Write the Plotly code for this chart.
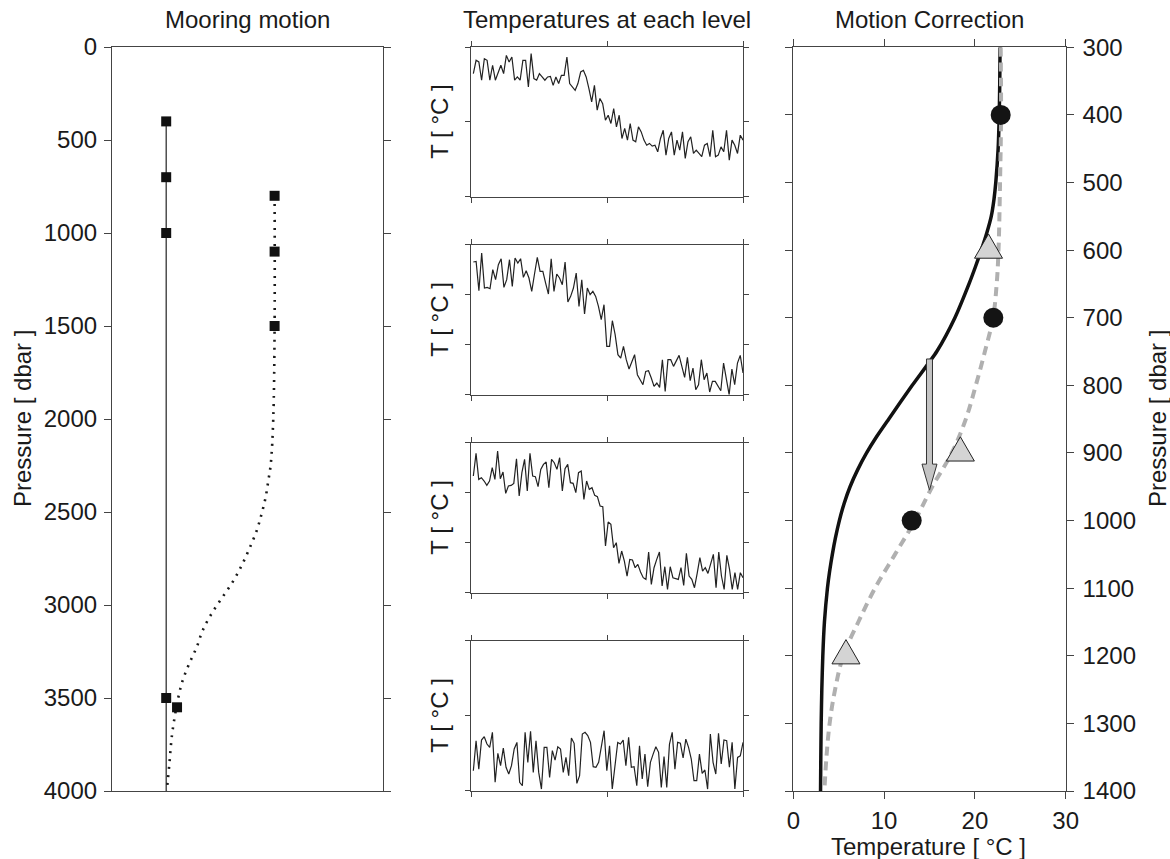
import plotly.graph_objects as go

W, H = 1170, 859
FONT = "Liberation Sans, Arial, Helvetica, sans-serif"
FS = 24
INK = "#1a1a1a"
FRAME = "#444444"

# ---------------- data ----------------
# Left panel: mooring motion (x is an arbitrary horizontal offset 0..10)
upright_x = [2, 2]
upright_p = [400, 4000]
upright_instr_x = [2, 2, 2, 2]
upright_instr_p = [400, 700, 1000, 3500]
tilted_x = [6.0, 6.0, 5.95, 5.86, 5.77, 5.67, 5.52, 5.34, 5.09, 4.81, 4.48, 4.09,
            3.68, 3.35, 3.13, 2.85, 2.61, 2.45, 2.24, 2.17, 2.12, 2.06, 2.02]
tilted_p = [800, 1500, 2000, 2240, 2330, 2420, 2510, 2600, 2690, 2780, 2870, 2955,
            3045, 3135, 3225, 3315, 3405, 3495, 3670, 3760, 3850, 3940, 4000]
tilted_instr_x = [6, 6, 6, 2.4]
tilted_instr_p = [800, 1100, 1500, 3550]

# Middle panels: temperature time series at each level (arbitrary units)
temp_level1 = [8.22, 9.11, 9.0, 7.78, 9.22, 9.11, 7.78, 8.78, 7.78, 8.33, 8.78, 8.22, 9.44, 9.0, 9.33,
               7.78, 8.0, 7.78, 9.11, 9.11, 7.33, 9.56, 7.89, 7.78, 8.22, 8.0, 7.78, 8.0, 8.04, 7.44,
               8.0, 7.56, 8.11, 8.11, 9.33, 7.56, 7.33, 7.11, 7.56, 8.33, 8.44, 8.0, 7.22, 6.33, 7.44,
               5.78, 6.56, 6.22, 5.11, 5.44, 4.89, 5.89, 4.67, 5.44, 3.89, 4.56, 3.78, 4.89, 3.78, 3.67,
               4.67, 4.33, 3.78, 3.44, 3.56, 3.38, 3.44, 3.0, 3.89, 4.44, 2.78, 3.89, 4.33, 2.78, 3.78,
               3.11, 4.33, 2.56, 3.67, 4.0, 2.89, 3.11, 2.89, 2.67, 3.44, 3.56, 2.67, 4.44, 2.67, 2.78,
               3.33, 3.0, 4.44, 2.44, 3.78, 3.44, 2.89, 4.11, 3.78]
temp_level2 = [7.96, 8.0, 6.24, 8.5, 6.4, 6.44, 6.36, 7.5, 6.9, 7.8, 8.16, 6.44, 6.9, 8.1, 6.5,
               8.2, 7.9, 8.16, 7.04, 7.44, 7.0, 6.2, 7.24, 8.24, 7.4, 7.4, 6.7, 6.04, 8.16, 6.2,
               7.24, 7.0, 6.6, 7.96, 5.56, 5.9, 6.4, 7.3, 5.3, 6.9, 4.84, 6.4, 6.0, 6.2, 5.9,
               5.3, 4.5, 5.4, 2.9, 2.9, 4.44, 3.6, 2.4, 2.2, 2.9, 2.1, 1.54, 2.0, 2.4, 1.2,
               0.9, 0.6, 1.4, 1.44, 1.0, 0.5, 0.7, 0.44, 2.1, 0.2, 2.1, 2.1, 1.7, 2.0, 2.36,
               1.7, 1.04, 2.24, 0.84, 1.6, 0.3, 0.6, 2.1, 0.9, 1.3, 0.16, 0.8, 0.8, 0.5, 0.24,
               1.9, 1.0, 0.0, 1.54, 0.6, 1.9, 2.36, 1.3]
temp_level3 = [7.0, 8.36, 6.8, 6.9, 6.7, 6.44, 6.7, 7.5, 6.8, 8.5, 6.84, 7.24, 5.96, 6.4, 6.44,
               6.56, 8.04, 5.8, 7.2, 8.0, 6.1, 8.36, 7.0, 6.96, 6.36, 7.4, 7.7, 7.84, 6.3, 8.0,
               7.8, 7.4, 8.1, 6.1, 7.44, 7.7, 6.6, 6.56, 6.0, 7.2, 7.3, 5.6, 6.7, 6.2, 6.3,
               5.84, 5.76, 5.2, 5.16, 2.8, 4.24, 4.1, 2.7, 3.0, 1.76, 2.5, 1.9, 1.0, 2.0, 1.96,
               1.5, 1.7, 1.24, 0.9, 0.8, 2.44, 0.5, 1.5, 2.0, 2.44, 0.4, 1.56, 0.2, 1.56, 0.9,
               0.84, 0.8, 1.5, 0.44, 2.36, 1.0, 0.8, 0.3, 1.16, 2.1, 1.3, 1.5, 1.16, 1.8, 2.3,
               0.3, 2.44, 1.0, 0.2, 2.24, 1.4, 0.2, 1.2, 0.2, 1.2, 0.9]
temp_level4 = [1.33, 3.33, 1.44, 3.38, 3.6, 3.11, 2.89, 3.89, 0.56, 2.49, 1.67, 2.84, 1.56, 1.11, 1.67,
               2.78, 3.22, 0.56, 0.33, 3.89, 1.89, 3.96, 1.22, 3.33, 1.22, 0.11, 2.89, 2.89, 0.89, 2.67,
               2.04, 2.93, 2.78, 1.22, 2.22, 1.0, 3.51, 3.16, 0.49, 1.0, 3.78, 3.89, 3.67, 3.22, 1.6,
               1.56, 1.89, 3.11, 4.0, 1.33, 3.0, 0.11, 1.78, 3.22, 3.11, 3.38, 1.67, 3.56, 1.56, 1.6,
               0.33, 3.0, 0.78, 2.44, 0.27, 1.89, 2.44, 2.93, 2.56, 0.22, 2.27, 0.22, 3.11, 3.89, 1.44,
               3.22, 3.16, 2.18, 3.44, 2.89, 2.11, 0.67, 0.67, 2.44, 1.16, 1.38, 0.11, 3.78, 1.89, 1.11,
               3.82, 1.78, 3.38, 3.33, 1.56, 3.22, 0.11, 2.22, 2.33, 3.22]
level_series = [temp_level1, temp_level2, temp_level3, temp_level4]
level_yrange = [[0, 10], [0, 9], [0, 9], [0, 10]]
level_yticks = [[0, 5, 10], [0, 3, 6, 9], [0, 3, 6, 9], [0, 5, 10]]

# Right panel: motion correction
true_T = [22.77, 22.74, 22.68, 22.56, 22.3, 22.1, 21.8, 21.3, 20.7, 20.05, 19.35, 17.8, 15.8,
          13.1, 10.5, 9.22, 8.07, 7.08, 6.25, 5.59, 5.07, 4.65, 4.3, 4.0, 3.76, 3.43,
          3.25, 3.14, 3.07, 3.03, 3.0]
true_p = [300, 350, 400, 450, 500, 525, 550, 575, 600, 625, 650, 700, 750,
          800, 850, 875, 900, 925, 950, 975, 1000, 1025, 1050, 1075, 1100, 1150,
          1200, 1250, 1300, 1350, 1400]
apparent_T = [22.84, 22.88, 22.77, 22.6, 22.4, 22.0, 21.1, 20.1, 19.0, 17.45,
              15.3, 13.4, 11.2, 9.0, 7.16, 5.5, 4.6, 4.0, 3.65, 3.42]
apparent_p = [300, 400, 500, 600, 650, 700, 750, 800, 850, 900,
              950, 1000, 1050, 1100, 1150, 1200, 1250, 1300, 1350, 1400]
circle_T = [22.84, 22.03, 13.04]
circle_p = [400, 700, 1000]
triangle_T = [21.5, 18.4, 5.8]
triangle_p = [600, 900, 1200]
arrow_T = 15.0
arrow_p_start = 761
arrow_p_end = 955
temp_ticks = [0, 10, 20, 30]
left_p_ticks = [0, 500, 1000, 1500, 2000, 2500, 3000, 3500, 4000]
right_p_ticks = [300, 400, 500, 600, 700, 800, 900, 1000, 1100, 1200, 1300, 1400]

# ---------------- layout geometry (pixels) ----------------
def xd(a, b):
    return [a / W, b / W]

def yd(top, bottom):
    return [1 - bottom / H, 1 - top / H]

L_X = (112, 383); L_Y = (47, 791)
M_X = (471, 743.3)
M_Y = [(47, 196.7), (244.7, 394.7), (442.7, 592.7), (640.7, 790.7)]
R_X = (793.3, 1065.7); R_Y = (47.3, 791)

fig = go.Figure()

axis_common = dict(showline=True, linecolor=FRAME, linewidth=1.2, mirror=True,
                   showgrid=False, zeroline=False, ticks="outside", ticklen=7,
                   tickcolor=FRAME, tickwidth=1.2, automargin=False,
                   tickfont=dict(family=FONT, size=FS, color=INK))

layout = dict(width=W, height=H, margin=dict(l=0, r=0, t=0, b=0, autoexpand=False),
              paper_bgcolor="white", plot_bgcolor="white", showlegend=False,
              font=dict(family=FONT, size=FS, color=INK))

# Left panel
layout["xaxis"] = dict(axis_common, domain=xd(*L_X), range=[0, 10], ticks="",
                       showticklabels=False, anchor="y")
layout["yaxis"] = dict(axis_common, domain=yd(*L_Y), range=[4000, 0],
                       tickvals=left_p_ticks, mirror="ticks", anchor="x", ticklabelstandoff=2)

fig.add_trace(go.Scatter(x=upright_x, y=upright_p, mode="lines",
                         line=dict(color="#333333", width=1.3), xaxis="x", yaxis="y"))
fig.add_trace(go.Scatter(x=tilted_x, y=tilted_p, mode="lines",
                         line=dict(color="#1a1a1a", width=2.6, dash="2px,6px", shape="spline"),
                         xaxis="x", yaxis="y"))
fig.add_trace(go.Scatter(x=upright_instr_x, y=upright_instr_p, mode="markers",
                         marker=dict(symbol="square", size=10, color="#111111"),
                         xaxis="x", yaxis="y"))
fig.add_trace(go.Scatter(x=tilted_instr_x, y=tilted_instr_p, mode="markers",
                         marker=dict(symbol="square", size=10, color="#111111"),
                         xaxis="x", yaxis="y"))

# Middle panels
for i, (series, yr, yt, (top, bot)) in enumerate(zip(level_series, level_yrange, level_yticks, M_Y)):
    k = i + 2
    n = len(series)
    idx = list(range(n))
    lo = -(n - 1) * 0.0086 / 0.9904
    hi = (n - 1) + (n - 1) * 0.001 / 0.9904
    layout[f"xaxis{k}"] = dict(axis_common, domain=xd(*M_X), range=[lo, hi],
                               tickvals=[lo, (lo + hi) / 2, hi], showticklabels=False,
                               mirror="ticks", ticklen=5, anchor=f"y{k}")
    layout[f"yaxis{k}"] = dict(axis_common, domain=yd(top, bot), range=yr,
                               tickvals=yt, showticklabels=False,
                               mirror="ticks", ticklen=5, anchor=f"x{k}")
    fig.add_trace(go.Scatter(x=idx, y=series, mode="lines",
                             line=dict(color="#222222", width=1.2),
                             xaxis=f"x{k}", yaxis=f"y{k}"))

# Right panel
layout["xaxis6"] = dict(axis_common, domain=xd(*R_X), range=[0, 30], tickvals=temp_ticks,
                        mirror="ticks", anchor="y6", ticklabelstandoff=1)
layout["yaxis6"] = dict(axis_common, domain=yd(*R_Y), range=[1400, 300], tickvals=right_p_ticks,
                        side="right", mirror="ticks", anchor="x6", ticklabelstandoff=4)

fig.add_trace(go.Scatter(x=true_T, y=true_p, mode="lines",
                         line=dict(color="#111111", width=3.5, shape="spline", smoothing=0.6),
                         xaxis="x6", yaxis="y6"))
fig.add_trace(go.Scatter(x=apparent_T, y=apparent_p, mode="lines",
                         line=dict(color="#b0b0b0", width=4, dash="9px,6px", shape="spline", smoothing=1.0),
                         xaxis="x6", yaxis="y6"))

# unit conversions for symbol sizes in the right panel
T_per_px = 30 / (R_X[1] - R_X[0])
p_per_px = 1100 / (R_Y[1] - R_Y[0])

# arrow polygon built from the arrow parameters
hw, HW, HL = 3.0 * T_per_px, 7.5 * T_per_px, 26 * p_per_px
ax_ = [arrow_T - hw, arrow_T + hw, arrow_T + hw, arrow_T + HW, arrow_T, arrow_T - HW, arrow_T - hw, arrow_T - hw]
ay_ = [arrow_p_start, arrow_p_start, arrow_p_end - HL, arrow_p_end - HL, arrow_p_end,
       arrow_p_end - HL, arrow_p_end - HL, arrow_p_start]
fig.add_trace(go.Scatter(x=ax_, y=ay_, mode="lines", fill="toself", fillcolor="#c4c4c4",
                         line=dict(color="#333333", width=1), xaxis="x6", yaxis="y6"))

fig.add_trace(go.Scatter(x=circle_T, y=circle_p, mode="markers",
                         marker=dict(symbol="circle", size=20, color="#141414"),
                         xaxis="x6", yaxis="y6"))

# triangles (equilateral, centroid on data point)
side = 28
hgt = side * 0.866
tx, ty = [], []
for T, p in zip(triangle_T, triangle_p):
    tx += [T, T + side / 2 * T_per_px, T - side / 2 * T_per_px, T, None]
    ty += [p - 2 * hgt / 3 * p_per_px, p + hgt / 3 * p_per_px, p + hgt / 3 * p_per_px,
           p - 2 * hgt / 3 * p_per_px, None]
fig.add_trace(go.Scatter(x=tx, y=ty, mode="lines", fill="toself", fillcolor="#d4d4d4",
                         line=dict(color="#222222", width=1), xaxis="x6", yaxis="y6"))

fig.update_layout(**layout)

# ---------------- text ----------------
def ann(text, x, y, angle=0, size=FS):
    fig.add_annotation(text=text, x=x / W, y=1 - y / H, xref="paper", yref="paper",
                       showarrow=False, textangle=angle, xanchor="center", yanchor="middle",
                       font=dict(family=FONT, size=size, color=INK))

ann("Mooring motion", (L_X[0] + L_X[1]) / 2, 20)
ann("Temperatures at each level", (M_X[0] + M_X[1]) / 2, 20)
ann("Motion Correction", (R_X[0] + R_X[1]) / 2, 20)
ann("Pressure [ dbar ]", 22, 419, angle=-90)
ann("Pressure [ dbar ]", 1157, 419, angle=-90)
ann("Temperature [ °C ]", 928, 846)
for top, bot in M_Y:
    ann("T [ °C ]", 440, (top + bot) / 2, angle=-90)

fig.write_html("out.html", config={"displayModeBar": False},
               post_script="document.body.style.margin='0';document.body.style.padding='0';")
